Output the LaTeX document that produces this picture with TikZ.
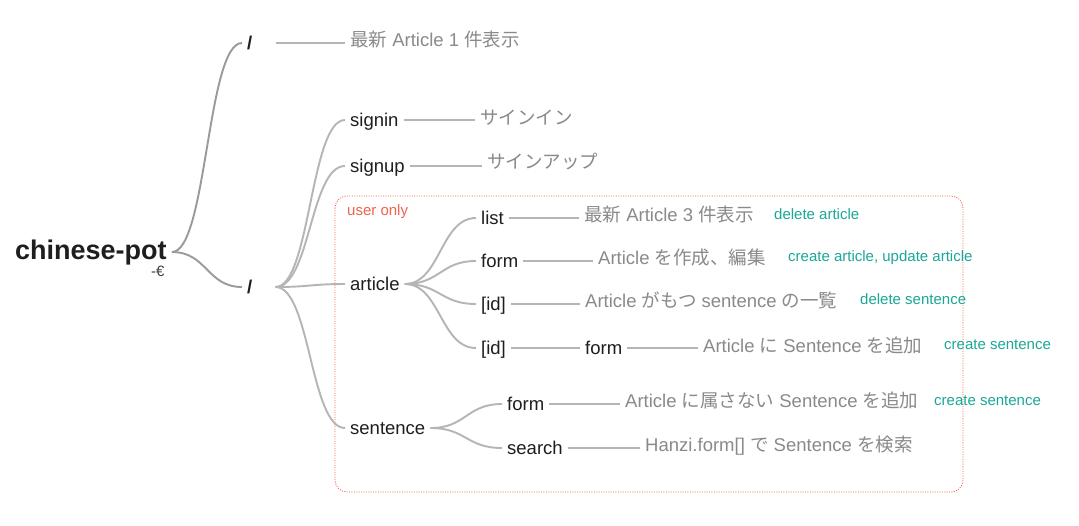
\documentclass[tikz,border=0pt]{standalone}
\usepackage{fontspec}
\setmainfont{Liberation Sans}
\newfontfamily\jp{Noto Sans CJK JP}
\usetikzlibrary{calc}
\definecolor{nodec}{HTML}{1E1E1E}
\definecolor{descc}{HTML}{8A8A8A}
\definecolor{linec}{HTML}{B5B5B5}
\definecolor{rootlinec}{HTML}{9A9A9A}
\definecolor{greenc}{HTML}{1AA896}
\definecolor{redc}{HTML}{F0634F}
\begin{document}
\begin{tikzpicture}[x=1pt,y=-1pt,
  txtbase/.style={inner xsep=5pt, inner ysep=0pt, anchor=base west},
  nd/.style={txtbase, font=\fontsize{18.5}{20}\selectfont, text=nodec, text height=12pt, text depth=0pt},
  rootnd/.style={txtbase, font=\bfseries\fontsize{27}{29}\selectfont, text=nodec, text height=14pt, text depth=0pt},
  ds/.style={txtbase, font=\fontsize{18.5}{20}\selectfont, text=descc},
  gr/.style={txtbase, font=\fontsize{15}{17}\selectfont, text=greenc},
  link/.style={draw=linec, line width=1.9pt},
  rootlink/.style={draw=rootlinec, line width=1.9pt},
  curve/.style={to path={let \p1=(\tikztostart), \p2=(\tikztotarget) in
      .. controls ({(\x1+\x2)/2},\y1) and ({(\x1+\x2)/2},\y2) .. (\tikztotarget)}},
  userbox/.style={draw=redc, line width=0.8pt, dash pattern=on 1pt off 1.4pt, rounded corners=12pt},
]
\useasboundingbox[fill=white] (0,0) rectangle (1079,525);

% user-only region
\draw[userbox] (335,196) rectangle (963,492);
\node[txtbase, font=\fontsize{15}{17}\selectfont, text=redc] (useronly) at (342,215) {user only};

% main nodes
\node[rootnd] (r) at (10,259) {chinese-pot};
\node[txtbase, font=\fontsize{15}{16}\selectfont, text=nodec!85, inner xsep=0pt] (rmark) at (151,276) {-€};
\node[nd] (s1) at (242,49) {\bfseries /};
\node[nd] (s2) at (242,293) {\bfseries /};
\node[nd] (signin) at (345,126) {signin};
\node[nd] (signup) at (345,172) {signup};
\node[nd] (article) at (345,290) {article};
\node[nd] (sentence) at (345,434) {sentence};
\node[nd] (list) at (476,224) {list};
\node[nd] (aform) at (476,267) {form};
\node[nd] (id1) at (476,310) {[id]};
\node[nd] (id2) at (476,354) {[id]};
\node[nd] (idform) at (580,354) {form};
\node[nd] (sform) at (502,410) {form};
\node[nd] (search) at (502,454) {search};

% descriptions
\node[ds] (d0) at (345,46) {{\jp 最新} Article 1 {\jp 件表示}};
\node[ds] (dsignin) at (475,124) {\jp サインイン};
\node[ds] (dsignup) at (482,168) {\jp サインアップ};
\node[ds] (dlist) at (579,221) {{\jp 最新} Article 3 {\jp 件表示}};
\node[ds] (daform) at (593,264) {Article {\jp を作成、編集}};
\node[ds] (did1) at (580,307) {Article {\jp がもつ} sentence {\jp の一覧}};
\node[ds] (didform) at (698,352) {Article {\jp に} Sentence {\jp を追加}};
\node[ds] (dsform) at (620,407) {Article {\jp に属さない} Sentence {\jp を追加}};
\node[ds] (dsearch) at (640,451) {Hanzi.form[] {\jp で} Sentence {\jp を検索}};

% green notes
\node[gr] (g1) at (769,219) {delete article};
\node[gr] (g2) at (783,261) {create article, update article};
\node[gr] (g3) at (855,304) {delete sentence};
\node[gr] (g4) at (939,349) {create sentence};
\node[gr] (g5) at (929,405) {create sentence};

% connectors
\draw[rootlink] (r.east) to[curve] (s1.west);
\draw[rootlink] (r.east) to[curve] (s2.west);
\coordinate (s1out) at ($(s1.east)+(18,0)$);
\coordinate (s2out) at ($(s2.east)+(18,0)$);
\draw[link] (s1out) -- (s1out -| d0.west);
\foreach \c in {signin,signup,article,sentence} \draw[link] (s2out) to[curve] (\c.west);
\foreach \c in {list,aform,id1,id2} \draw[link] (article.east) to[curve] (\c.west);
\foreach \c in {sform,search} \draw[link] (sentence.east) to[curve] (\c.west);
\draw[link] (signin.east) -- (signin.east -| dsignin.west);
\draw[link] (signup.east) -- (signup.east -| dsignup.west);
\draw[link] (list.east) -- (list.east -| dlist.west);
\draw[link] (aform.east) -- (aform.east -| daform.west);
\draw[link] (id1.east) -- (id1.east -| did1.west);
\draw[link] (id2.east) -- (idform.west);
\draw[link] (idform.east) -- (idform.east -| didform.west);
\draw[link] (sform.east) -- (sform.east -| dsform.west);
\draw[link] (search.east) -- (search.east -| dsearch.west);
\end{tikzpicture}
\end{document}
